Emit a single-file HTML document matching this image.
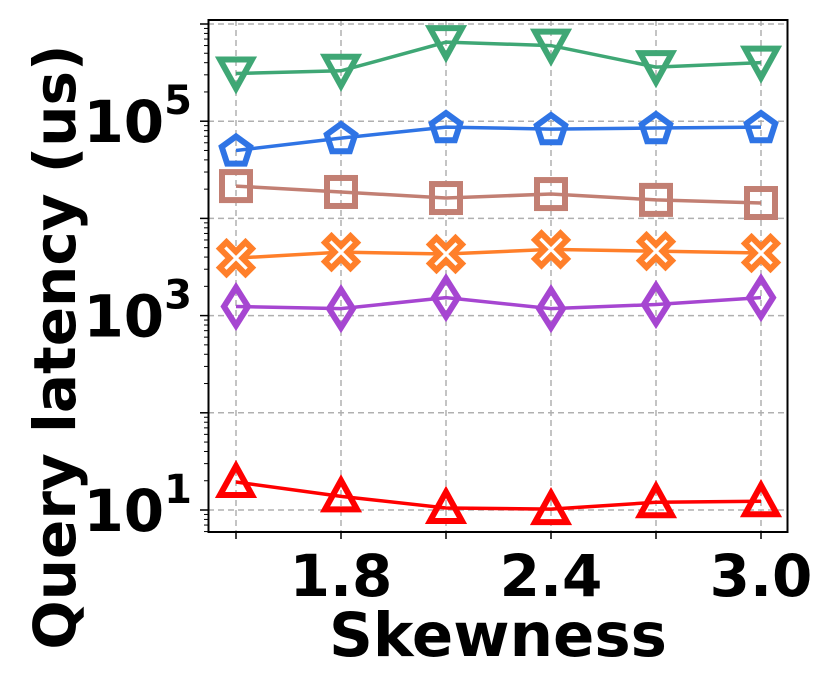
<!DOCTYPE html>
<html><head><meta charset="utf-8"><style>
body{margin:0;background:#fff;}
svg text{font-family:"DejaVu Sans","Liberation Sans",sans-serif;font-weight:bold;}
</style></head><body>
<svg id="chart" width="830" height="692" viewBox="0 0 830 692">
<g id="grid"></g>
<g id="series"></g>
<rect x="208.5" y="20" width="579" height="512" fill="none" stroke="#000" stroke-width="2"/>
<g id="axes"></g>
<text x="498" y="656" text-anchor="middle" font-size="61">Skewness</text>
<text transform="translate(75,347) rotate(-90)" text-anchor="middle" font-size="58">Query latency (us)</text>
</svg>
<script>
const skew = [1.5, 1.8, 2.1, 2.4, 2.7, 3.0];
const xTickLabels = ["1.8", "2.4", "3.0"];
const xTickValues = [1.8, 2.4, 3.0];
const yTickExps = [1, 3, 5];
const greenVals = [310000, 330000, 650000, 600000, 360000, 400000];
const blueVals = [50000, 67000, 87000, 83000, 85000, 87000];
const brownVals = [21500, 18700, 16200, 17800, 15500, 14400];
const orangeVals = [3900, 4500, 4300, 4800, 4600, 4400];
const purpleVals = [1240, 1180, 1530, 1180, 1300, 1530];
const redVals = [19.4, 13.8, 10.5, 10.2, 12, 12.3];

const NS = "http://www.w3.org/2000/svg";
const X0 = 236, XS = 350;
function xp(v){ return X0 + (v - 1.5) * XS; }
function yp(v){ return 510 - (Math.log10(v) - 1) * 97.2; }
function mk(tag, attrs, parent){ const e = document.createElementNS(NS, tag); for (const k in attrs) e.setAttribute(k, attrs[k]); parent.appendChild(e); return e; }

const grid = document.getElementById('grid');
const axes = document.getElementById('axes');
skew.forEach(s => {
  const l = mk('line', {x1: xp(s), x2: xp(s), y1: 20, y2: 532, stroke: '#b0b0b0', 'stroke-width': 1.5, 'stroke-dasharray': '6,4'}, grid);
  
  
  const t = mk('line', {x1: xp(s), x2: xp(s), y1: 532, y2: 539, stroke: '#000', 'stroke-width': 1.5}, axes);
  
  
});
for (let e = 1; e <= 6; e++) {
  const l = mk('line', {x1: 208, x2: 788, y1: yp(Math.pow(10, e)), y2: yp(Math.pow(10, e)), stroke: '#b0b0b0', 'stroke-width': 1.5, 'stroke-dasharray': '6,4'}, grid);
  
  
  const t = mk('line', {x1: 200, x2: 208, y1: yp(Math.pow(10, e)), y2: yp(Math.pow(10, e)), stroke: '#000', 'stroke-width': 1.5}, axes);
  
  
}
for (let e = 0; e <= 6; e++) {
  for (let m = 2; m <= 9; m++) {
    const v = m * Math.pow(10, e);
    const y = yp(v);
    if (y < 20 || y > 532) continue;
    const t = mk('line', {x1: 204, x2: 208, y1: y, y2: y, stroke: '#000', 'stroke-width': 1}, axes);
    
    
  }
}
xTickLabels.forEach((lab, i) => {
  const t = mk('text', {x: xp(xTickValues[i]), y: 596, 'text-anchor': 'middle', 'font-size': 58}, axes);
  t.textContent = lab;
  
  
});
yTickExps.forEach(e => {
  const t = mk('text', {x: 192, y: yp(Math.pow(10, e)) + 21, 'text-anchor': 'end', 'font-size': 58}, axes);
  t.textContent = '10';
  const s = mk('tspan', {dy: -28, 'font-size': 40}, t);
  s.textContent = String(e);
  
  
});

function marker(kind, cx, cy, color, g){
  let el;
  if (kind === 'tdown') el = mk('polygon', {points: `${cx-16},${cy-14} ${cx+16},${cy-14} ${cx},${cy+15}`}, g);
  else if (kind === 'tup') el = mk('polygon', {points: `${cx-16},${cy+13} ${cx+16},${cy+13} ${cx},${cy-16}`}, g);
  else if (kind === 'square') el = mk('rect', {x: cx-14, y: cy-14, width: 28, height: 28}, g);
  else if (kind === 'diamond') el = mk('polygon', {points: `${cx},${cy-19} ${cx+12},${cy} ${cx},${cy+19} ${cx-12},${cy}`}, g);
  else if (kind === 'pent') {
    const p = []; for (let i = 0; i < 5; i++){ const a = -Math.PI/2 + i*2*Math.PI/5; p.push(`${cx+15*Math.cos(a)},${cy+1+15*Math.sin(a)}`);} el = mk('polygon', {points: p.join(' ')}, g);
  } else if (kind === 'x') {
    const a = 6.5, b = 16;
    const pts = [[-b+a,-b],[0,-a],[b-a,-b],[b,-b+a],[a,0],[b,b-a],[b-a,b],[0,a],[-b+a,b],[-b,b-a],[-a,0],[-b,-b+a]];
    el = mk('polygon', {points: pts.map(p => `${cx+p[0]},${cy+p[1]}`).join(' ')}, g);
  }
  el.setAttribute('fill', kind === 'x' ? '#fff' : 'none');
  el.setAttribute('stroke', color);
  el.setAttribute('stroke-width', 6);
  el.setAttribute('stroke-linejoin', 'miter');
  
  
}
const seriesG = document.getElementById('series');
function drawSeries(vals, color, kind, name){
  const g = mk('g', {}, seriesG);
  
  
  const pl = mk('polyline', {points: vals.map((v, i) => `${xp(skew[i])},${yp(v)}`).join(' '), fill: 'none', stroke: color, 'stroke-width': 3.5}, g);
  
  
  vals.forEach((v, i) => marker(kind, xp(skew[i]), yp(v), color, g));
}
drawSeries(greenVals, '#3fa775', 'tdown', 'series-green');
drawSeries(blueVals, '#2f74e5', 'pent', 'series-blue');
drawSeries(brownVals, '#c27f73', 'square', 'series-brown');
drawSeries(orangeVals, '#ff7f2a', 'x', 'series-orange');
drawSeries(purpleVals, '#a646d1', 'diamond', 'series-purple');
drawSeries(redVals, '#ff0000', 'tup', 'series-red');
</script>
</body></html>
